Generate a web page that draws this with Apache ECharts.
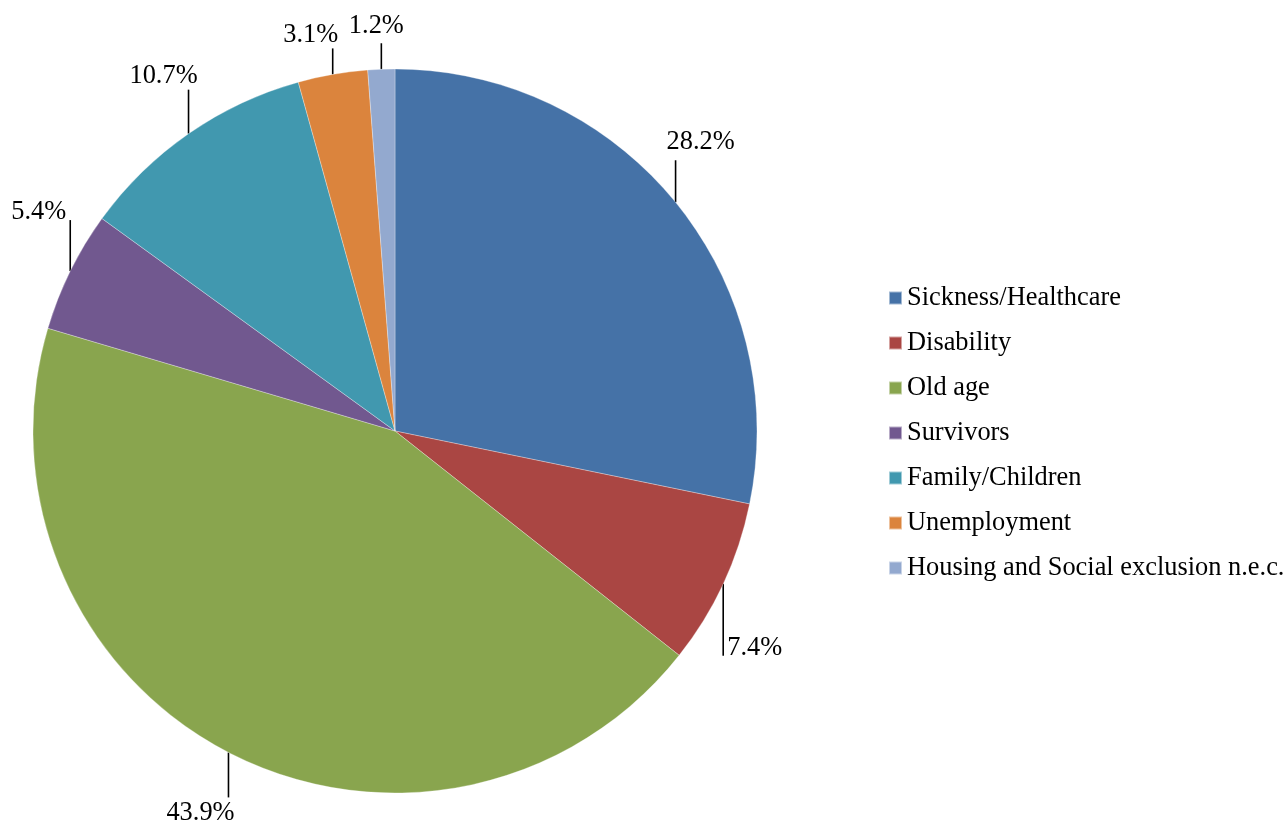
<!DOCTYPE html>
<html>
<head>
<meta charset="utf-8">
<script src="https://cdn.jsdelivr.net/npm/echarts@6/dist/echarts.min.js"></script>
<style>
  html, body { margin: 0; padding: 0; background: #fff; }
  #chart { width: 1288px; height: 825px; }
</style>
</head>
<body>
<div id="chart"></div>
<script>
// Social protection expenditure by function (share of total, %)
const categories = [
  'Sickness/Healthcare',
  'Disability',
  'Old age',
  'Survivors',
  'Family/Children',
  'Unemployment',
  'Housing and Social exclusion n.e.c.'
];
const shares = [28.2, 7.4, 43.9, 5.4, 10.7, 3.1, 1.2];
const colors = ['#4572A7', '#AA4643', '#89A54E', '#71588F', '#4198AF', '#DB843D', '#93A9CF'];

// Geometry of the pie and of each leader line / label placement
const CX = 395, CY = 431, R = 362;
// [line length (signed, vertical), label dx, label dy, align] relative to line end
const labelPlacement = [
  [-42,  25, -18, 'center'],
  [ 72,   4,  -8, 'left'],
  [ 45, -28,  16, 'center'],
  [-51,  -4,  -8, 'right'],
  [-44, -25, -14, 'center'],
  [-26, -22, -13, 'center'],
  [-26,  -5, -17, 'center']
];

const total = shares.reduce((a, b) => a + b, 0);
const cumBefore = [];
shares.reduce((acc, v, i) => { cumBefore[i] = acc; return acc + v; }, 0);

const FONT = '"Liberation Serif", "Times New Roman", serif';

const chart = echarts.init(document.getElementById('chart'));
chart.setOption({
  animation: false,
  color: colors,
  legend: {
    orient: 'vertical',
    left: 883,
    top: 280,
    icon: 'rect',
    itemWidth: 13,
    itemHeight: 13,
    itemGap: 19,
    selectedMode: false,
    textStyle: { fontFamily: FONT, fontSize: 26.4, color: '#000', lineHeight: 26 },
    data: categories
  },
  series: [{
    type: 'pie',
    center: [CX, CY],
    radius: R,
    startAngle: 90,
    clockwise: true,
    avoidLabelOverlap: false,
    itemStyle: { borderColor: 'rgba(255,255,255,0.5)', borderWidth: 0.6 },
    label: {
      show: true,
      position: 'outside',
      formatter: p => shares[p.dataIndex].toFixed(1) + '%',
      fontFamily: FONT,
      fontSize: 26.4,
      color: '#000'
    },
    labelLine: { show: true, lineStyle: { color: '#000', width: 1.6 } },
    labelLayout: function (params) {
      const i = params.dataIndex;
      const theta = 2 * Math.PI * (cumBefore[i] + shares[i] / 2) / total;
      const ex = CX + R * Math.sin(theta);
      const ey = CY - R * Math.cos(theta);
      const pl = labelPlacement[i];
      const lx = ex, ly = ey + pl[0];
      return {
        x: lx + pl[1],
        y: ly + pl[2],
        align: pl[3],
        verticalAlign: 'middle',
        labelLinePoints: [[ex, ey], [lx, ly], [lx, ly]]
      };
    },
    data: categories.map((name, i) => ({ name: name, value: shares[i] }))
  }]
});
</script>
</body>
</html>
